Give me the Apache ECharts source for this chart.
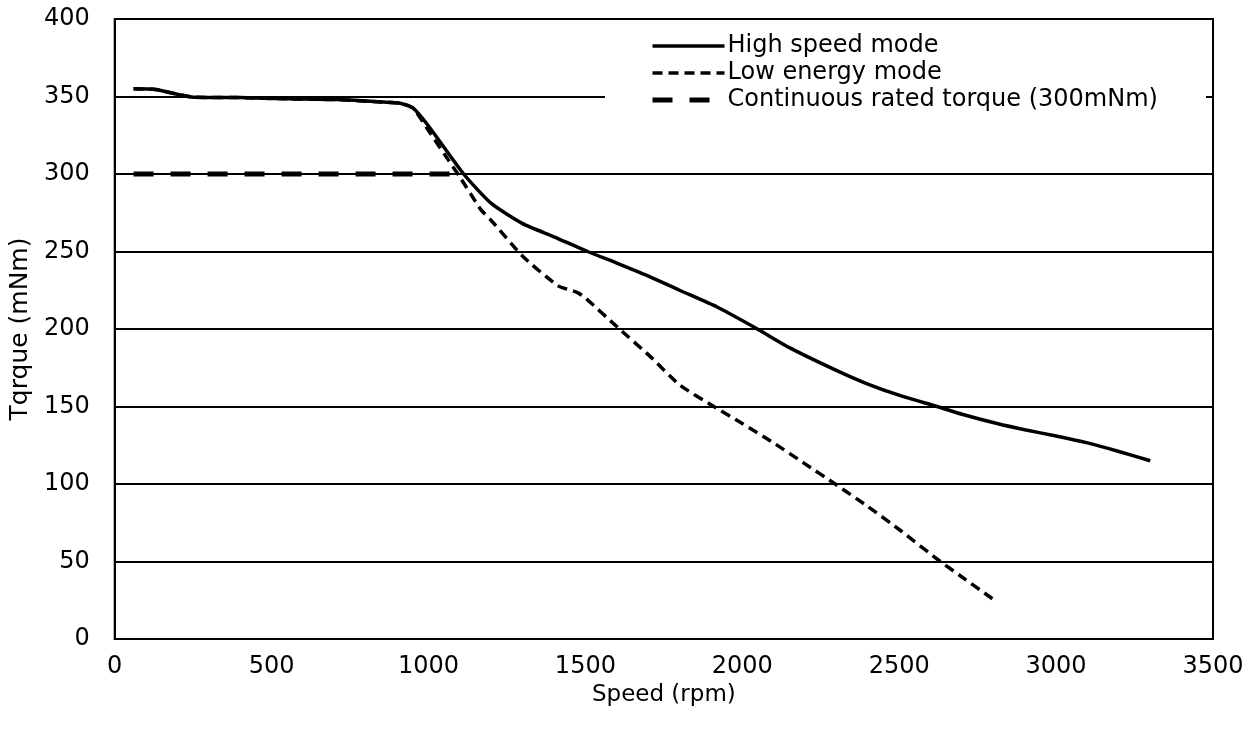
<!DOCTYPE html>
<html>
<head>
<meta charset="utf-8">
<script src="https://cdn.jsdelivr.net/npm/echarts@6/dist/echarts.min.js"></script>
<style>
html,body{margin:0;padding:0;background:#fff;}
#c{width:1258px;height:731px;}
</style>
</head>
<body>
<div id="c"></div>
<script>
const seriesNames = ['High speed mode', 'Low energy mode', 'Continuous rated torque (300mNm)'];
const xTicks = [0, 500, 1000, 1500, 2000, 2500, 3000, 3500];
const yTicks = [0, 50, 100, 150, 200, 250, 300, 350, 400];

const hsSpeed  = [60, 130, 255, 400, 550, 700, 850, 913, 951, 1000, 1112, 1200, 1300, 1400, 1507, 1600, 1708, 1800, 1921, 2048, 2150, 2303, 2400, 2504, 2621, 2700, 2812, 2900, 3000, 3100, 3200, 3300];
const hsTorque = [355, 354.5, 349.5, 349.3, 348.5, 348, 346.5, 345.5, 342.5, 331, 300, 281, 268, 259.5, 250, 242.5, 233.5, 225, 214, 200, 188, 173, 164.5, 157, 150, 145, 139, 135, 131, 126.5, 121, 115];

const leSpeed  = [60, 130, 255, 400, 550, 700, 850, 913, 951, 1000, 1050, 1100, 1167, 1200, 1300, 1412, 1475, 1500, 1603, 1708, 1800, 1909, 2000, 2100, 2200, 2296, 2400, 2504, 2631, 2700, 2797];
const leTorque = [355, 354.5, 349.5, 349.3, 348.5, 348, 346.5, 345.5, 342.5, 328, 313, 298, 277, 270, 247, 228, 223.5, 220, 201, 182, 164, 150, 139, 126.5, 113, 100, 85.5, 70, 50, 40, 26];

const rtSpeed  = [60, 1075];
const rtTorque = [300, 300];

const zip = (a, b) => a.map((v, i) => [v, b[i]]);
const FONT = 'DejaVu Sans, Liberation Sans, Arial, sans-serif';

const chart = echarts.init(document.getElementById('c'), null, {renderer: 'canvas'});
chart.setOption({
  animation: false,
  backgroundColor: '#fff',
  color: ['#000', '#000', '#000'],
  textStyle: {fontFamily: FONT, color: '#000'},
  grid: {left: 113, right: 45, top: 19, bottom: 92, show: true, borderColor: '#000', borderWidth: 2, backgroundColor: 'transparent'},
  legend: {
    data: [
      {name: seriesNames[0], lineStyle: {width: 3.5}},
      {name: seriesNames[1], lineStyle: {width: 3.5}},
      {name: seriesNames[2], lineStyle: {width: 5}}
    ],
    orient: 'vertical',
    left: 605, top: 30,
    itemWidth: 72, itemHeight: 14, itemGap: 3,
    backgroundColor: '#fff',
    padding: [4, 48, 6, 45],
    itemStyle: {opacity: 0},
    textStyle: {fontFamily: FONT, fontSize: 24, lineHeight: 22, color: '#000', padding: [0, 0, 0, -2]}
  },
  xAxis: {
    type: 'value', min: 0, max: 3500, interval: 500,
    name: 'Speed (rpm)', nameLocation: 'middle', nameGap: 39,
    nameTextStyle: {fontFamily: FONT, fontSize: 23, color: '#000'},
    axisLine: {show: true, lineStyle: {color: '#000', width: 2}},
    axisTick: {show: false},
    axisLabel: {fontFamily: FONT, fontSize: 24, color: '#000', margin: 16, formatter: v => String(v)},
    splitLine: {show: false}
  },
  yAxis: {
    type: 'value', min: 0, max: 400, interval: 50,
    name: 'Tqrque (mNm)', nameLocation: 'middle', nameGap: 78,
    nameTextStyle: {fontFamily: FONT, fontSize: 25, color: '#000'},
    axisLine: {show: true, lineStyle: {color: '#000', width: 2}},
    axisTick: {show: false},
    axisLabel: {fontFamily: FONT, fontSize: 24, color: '#000', margin: 25, formatter: v => String(v)},
    splitLine: {show: true, lineStyle: {color: '#000', width: 1.8}}
  },
  series: [
    {
      name: seriesNames[2], type: 'line', data: zip(rtSpeed, rtTorque), symbol: 'none',
      itemStyle: {color: '#000'},
      lineStyle: {color: '#000', width: 5, type: [20, 17]}, z: 2
    },
    {
      name: seriesNames[1], type: 'line', data: zip(leSpeed, leTorque), symbol: 'none', smooth: 0.2,
      itemStyle: {color: '#000'},
      lineStyle: {color: '#000', width: 3.5, type: [10, 6]}, z: 3
    },
    {
      name: seriesNames[0], type: 'line', data: zip(hsSpeed, hsTorque), symbol: 'none', smooth: 0.2,
      itemStyle: {color: '#000'},
      lineStyle: {color: '#000', width: 3.5}, z: 4
    }
  ]
});
</script>
</body>
</html>
